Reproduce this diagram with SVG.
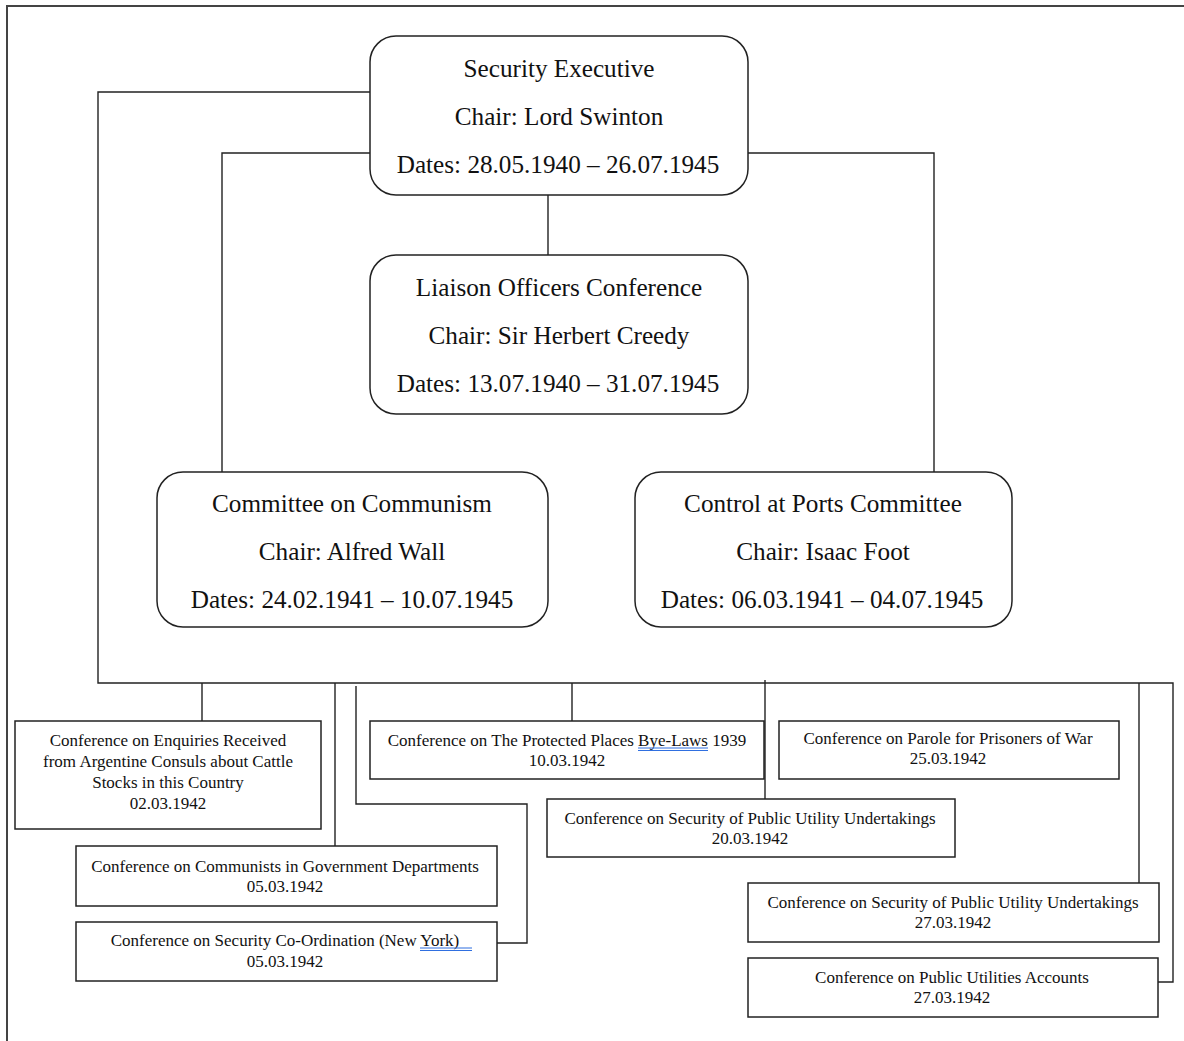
<svg xmlns="http://www.w3.org/2000/svg" width="1184" height="1041" viewBox="0 0 1184 1041">
<style>
.big{font-family:"Liberation Serif","Times New Roman",serif;font-size:25.2px;fill:#111;text-anchor:middle}
.sm{font-family:"Liberation Serif","Times New Roman",serif;font-size:17px;fill:#111;text-anchor:middle}
.rn{fill:#fff;stroke:#222;stroke-width:1.5}
.bx{fill:#fff;stroke:#222;stroke-width:1.5}
.ln{fill:none;stroke:#222;stroke-width:1.4}
.ul{fill:none;stroke:#2f6fe0;stroke-width:1.1}
</style>
<rect width="1184" height="1041" fill="#fff"/>
<g id="frame">
<path d="M7 1041 V6 H1184" fill="none" stroke="#444" stroke-width="2"/>
</g>
<g id="connectors">
<path class="ln" d="M548 195 V255"/>
<path class="ln" d="M370 153 H222 V472"/>
<path class="ln" d="M748 153 H934 V472"/>
<path class="ln" d="M370 92 H98 V683 H1173 V982 H1158"/>
<path class="ln" d="M202 683 V721"/>
<path class="ln" d="M335 683 V846"/>
<path class="ln" d="M356 686 V804 H527 V943 H497" stroke="#555"/>
<path class="ln" d="M572 683 V721"/>
<path class="ln" d="M765 680 V799" stroke="#555"/>
<path class="ln" d="M1139 683 V883" stroke="#555"/>
</g>
<g id="security-executive">
<rect class="rn" x="370" y="36" width="378" height="159" rx="26"/>
<text class="big" x="559" y="77">Security Executive</text>
<text class="big" x="559" y="125">Chair: Lord Swinton</text>
<text class="big" x="558" y="173">Dates: 28.05.1940 – 26.07.1945</text>
</g>
<g id="liaison-officers">
<rect class="rn" x="370" y="255" width="378" height="159" rx="26"/>
<text class="big" x="559" y="296">Liaison Officers Conference</text>
<text class="big" x="559" y="344">Chair: Sir Herbert Creedy</text>
<text class="big" x="558" y="392">Dates: 13.07.1940 – 31.07.1945</text>
</g>
<g id="committee-communism">
<rect class="rn" x="157" y="472" width="391" height="155" rx="26"/>
<text class="big" x="352" y="512">Committee on Communism</text>
<text class="big" x="352" y="560">Chair: Alfred Wall</text>
<text class="big" x="352" y="608">Dates: 24.02.1941 – 10.07.1945</text>
</g>
<g id="control-ports">
<rect class="rn" x="635" y="472" width="377" height="155" rx="26"/>
<text class="big" x="823" y="512">Control at Ports Committee</text>
<text class="big" x="823" y="560">Chair: Isaac Foot</text>
<text class="big" x="822" y="608">Dates: 06.03.1941 – 04.07.1945</text>
</g>
<g id="argentine">
<rect class="bx" x="15" y="721" width="306" height="108"/>
<text class="sm" x="168" y="746">Conference on Enquiries Received</text>
<text class="sm" x="168" y="767">from Argentine Consuls about Cattle</text>
<text class="sm" x="168" y="788">Stocks in this Country</text>
<text class="sm" x="168" y="809">02.03.1942</text>
</g>
<g id="protected-places">
<rect class="bx" x="370" y="721" width="394" height="58"/>
<text class="sm" x="567" y="746">Conference on The Protected Places Bye-Laws 1939</text>
<text class="sm" x="567" y="766">10.03.1942</text>
<path class="ul" d="M638 748 H708 M638 750.5 H708"/>
</g>
<g id="parole">
<rect class="bx" x="779" y="721" width="340" height="58"/>
<text class="sm" x="948" y="744">Conference on Parole for Prisoners of War</text>
<text class="sm" x="948" y="764">25.03.1942</text>
</g>
<g id="public-utility-20">
<rect class="bx" x="547" y="799" width="408" height="58"/>
<text class="sm" x="750" y="824">Conference on Security of Public Utility Undertakings</text>
<text class="sm" x="750" y="844">20.03.1942</text>
</g>
<g id="communists-govt">
<rect class="bx" x="76" y="846" width="421" height="60"/>
<text class="sm" x="285" y="872">Conference on Communists in Government Departments</text>
<text class="sm" x="285" y="892">05.03.1942</text>
</g>
<g id="security-coordination">
<rect class="bx" x="76" y="922" width="421" height="59"/>
<text class="sm" x="285" y="946">Conference on Security Co-Ordination (New York)</text>
<text class="sm" x="285" y="967">05.03.1942</text>
<path class="ul" d="M420 948 H472 M420 950.5 H472"/>
</g>
<g id="public-utility-27">
<rect class="bx" x="748" y="883" width="411" height="59"/>
<text class="sm" x="953" y="908">Conference on Security of Public Utility Undertakings</text>
<text class="sm" x="953" y="928">27.03.1942</text>
</g>
<g id="public-utilities-accounts">
<rect class="bx" x="748" y="958" width="410" height="59"/>
<text class="sm" x="952" y="983">Conference on Public Utilities Accounts</text>
<text class="sm" x="952" y="1003">27.03.1942</text>
</g>
</svg>
